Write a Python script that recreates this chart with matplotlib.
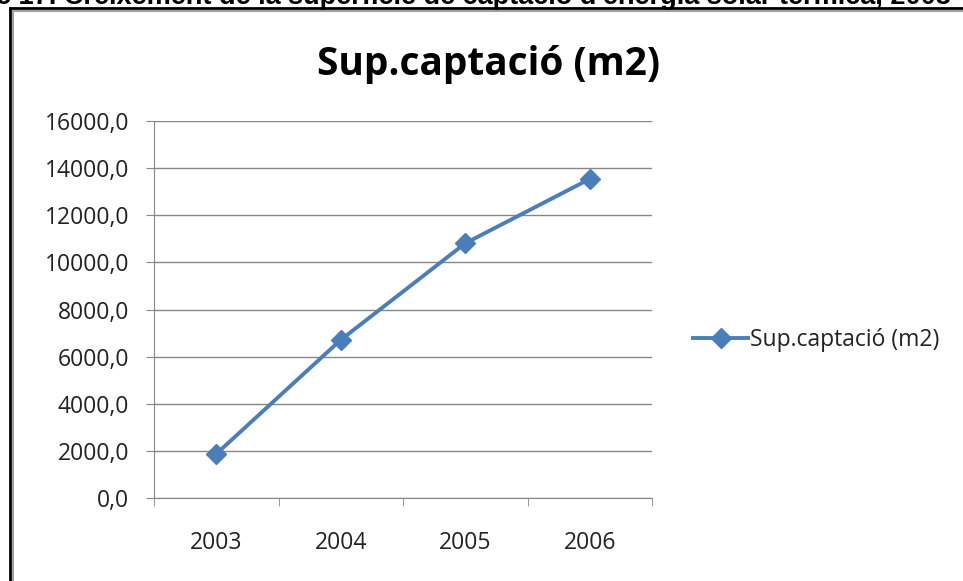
import matplotlib.pyplot as plt
from matplotlib.lines import Line2D

# dades
anys = ['2003', '2004', '2005', '2006']
superficie = [1870, 6710, 10810, 13540]
yticks = [0, 2000, 4000, 6000, 8000, 10000, 12000, 14000, 16000]
serie = 'Sup.captació (m2)'

W, H = 963, 581
fig = plt.figure(figsize=(W / 100, H / 100), dpi=100)
fig.patch.set_facecolor('white')

# text del document tallat a dalt
fig.text(-0.004, 1 - 4 / H, "c 17. Creixement de la superfície de captació d'energia solar tèrmica, 2003",
         fontsize=19.5, fontweight='bold', family='Liberation Sans', va='baseline', ha='left')

# marc del gràfic
fig.add_artist(Line2D([10 / W, 10 / W], [0, 1 - 8 / H], transform=fig.transFigure, color='black', lw=2))
fig.add_artist(Line2D([10 / W, 1], [1 - 8 / H, 1 - 8 / H], transform=fig.transFigure, color='black', lw=2))
fig.add_artist(Line2D([13 / W, 13 / W], [0, 1 - 11 / H], transform=fig.transFigure, color='#a0a0a0', lw=1.5))
fig.add_artist(Line2D([13 / W, 1], [1 - 11 / H, 1 - 11 / H], transform=fig.transFigure, color='#a0a0a0', lw=1.5))

ax = fig.add_axes([154 / W, 1 - 498 / H, (652 - 154) / W, (498 - 121) / H])
x = list(range(len(anys)))
ax.plot(x, superficie, color='#4A7EBB', lw=2.8, marker='D', markersize=10, label=serie)

ax.set_xlim(-0.5, len(anys) - 0.5)
ax.set_ylim(0, 16000)
ax.set_yticks(yticks)
ax.set_yticklabels([f'{v:.1f}'.replace('.', ',') for v in yticks])
ax.set_xticks(x)
ax.set_xticklabels(anys)
ax.set_xticks([i - 0.5 for i in range(len(anys) + 1)], minor=True)
ax.tick_params(axis='x', which='major', length=0, pad=24)
ax.tick_params(axis='x', which='minor', length=6, color='#868686', direction='out')
ax.tick_params(axis='y', length=6, color='#868686', direction='out', pad=12)
for lab in ax.get_xticklabels() + ax.get_yticklabels():
    lab.set_family('Open Sans')
    lab.set_fontsize(16.5)
    lab.set_color('#222222')

ax.grid(axis='y', color='#868686', lw=1)
ax.set_axisbelow(True)
for s in ['top', 'right']:
    ax.spines[s].set_visible(False)
ax.spines['left'].set_color('#868686')
ax.spines['bottom'].set_color('#868686')

fig.text(488 / W, 1 - 65 / H, serie, fontsize=28, fontweight='bold', family='Open Sans',
         ha='center', va='center', color='black')

leg = fig.legend(loc='center left', bbox_to_anchor=(684 / W, 1 - 340 / H), frameon=False,
                 prop={'family': 'Open Sans', 'size': 16.5}, handlelength=2.4, handletextpad=0.1,
                 borderaxespad=0)
for t in leg.get_texts():
    t.set_color('#222222')

fig.savefig('out.png', dpi=100)
